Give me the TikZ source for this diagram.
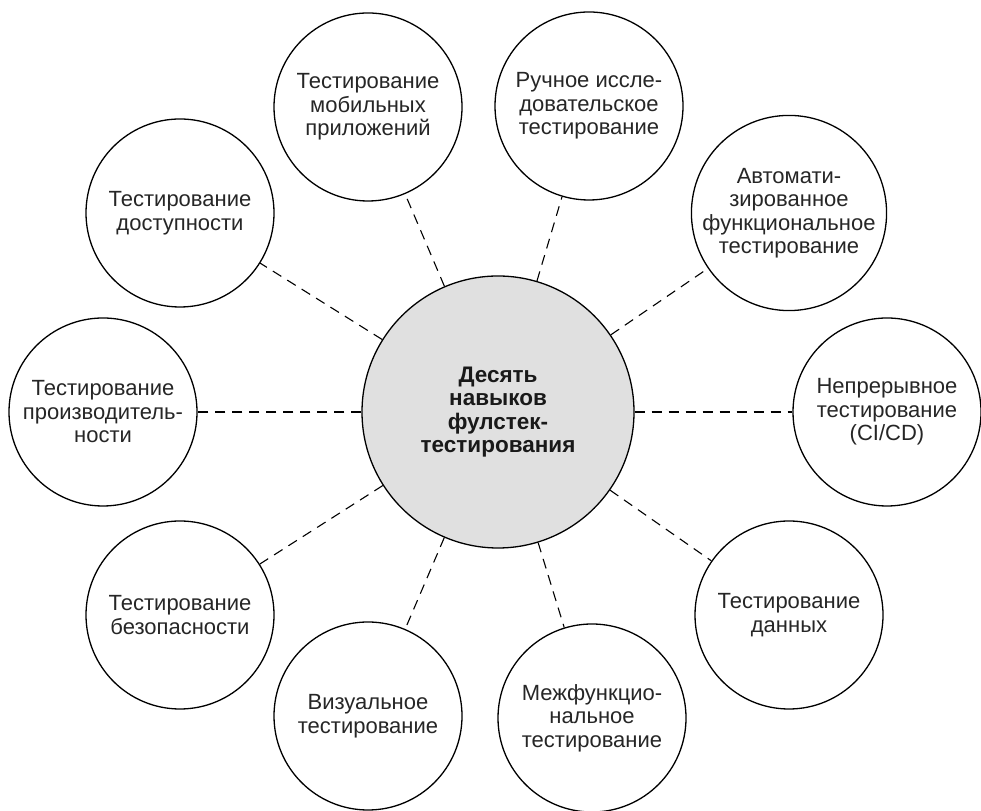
\documentclass[tikz,border=0pt]{standalone}
\usepackage{fontspec}
\setmainfont{Liberation Sans}
\begin{document}
\begin{tikzpicture}[x=1pt,y=1pt,
  skill/.style={circle,draw=black,line width=1.3pt,fill=white,minimum size=188pt,inner sep=0pt,align=center,font=\fontsize{22}{23.5}\selectfont,text=black!85},
  hub/.style={circle,draw=black,line width=1.3pt,fill=black!12,minimum size=272pt,inner sep=0pt,align=center,font=\fontsize{22.5}{23.5}\selectfont\bfseries,text=black!90},
  link/.style={line width=1.1pt,dash pattern=on 10pt off 7pt}]
\useasboundingbox (0,0) rectangle (981,810);
\node[hub] (c) at (498,398) {Десять\\навыков\\фулстек-\\тестирования};
\node[skill] (mob) at (368,703) {Тестирование\\мобильных\\приложений};
\node[skill] (man) at (589,704) {Ручное иссле-\\довательское\\тестирование};
\node[skill] (auto) at (789,597) {Автомати-\\зированное\\функциональное\\тестирование};
\node[skill] (ci) at (887,398) {Непрерывное\\тестирование\\(CI/CD)};
\node[skill] (data) at (789,195) {Тестирование\\данных};
\node[skill] (cross) at (592,92) {Межфункцио-\\нальное\\тестирование};
\node[skill] (vis) at (368,94) {Визуальное\\тестирование};
\node[skill] (sec) at (180,195) {Тестирование\\безопасности};
\node[skill] (perf) at (103,398) {Тестирование\\производитель-\\ности};
\node[skill] (acc) at (180,597) {Тестирование\\доступности};
\foreach \n in {mob,man,auto,ci,data,cross,vis,sec,perf,acc}
  \draw[link] (c) -- (\n);
\end{tikzpicture}
\end{document}
